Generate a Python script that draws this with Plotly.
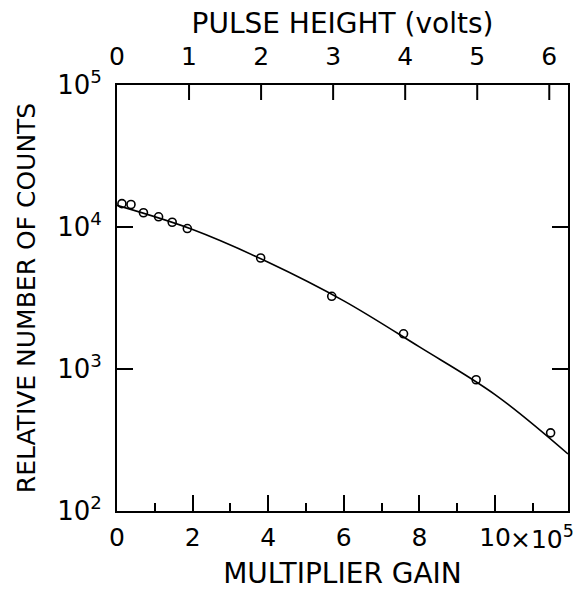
import math
import plotly.graph_objects as go

# Measured counts versus multiplier gain (gain in units of 10^5)
gain_pts = [0.13, 0.37, 0.70, 1.10, 1.46, 1.86, 3.80, 5.68, 7.58, 9.50, 11.47]
counts_pts = [14600, 14400, 12600, 11800, 10800, 9750, 6050, 3250, 1770, 840, 355]

# Smooth fitted curve through the measurements
curve_gain = [0, 2, 4, 6, 8, 10, 11.93]
curve_counts = [14200, 9600, 5650, 3020, 1430, 660, 252]

gain_ticks = [0, 2, 4, 6, 8, 10]
gain_ticktext = ["0", "2", "4", "6", "8", "10"]
gain_minor = [1, 3, 5, 7, 9, 11]
volt_ticks = [0, 1, 2, 3, 4, 5, 6]
count_ticks = [1e2, 1e3, 1e4, 1e5]
count_ticktext = ["10<sup>2</sup>", "10<sup>3</sup>", "10<sup>4</sup>", "10<sup>5</sup>"]

GAIN_MAX = 11.93
VOLT_MAX = 6.26
GAIN_PER_VOLT = GAIN_MAX / VOLT_MAX
LOG_MIN, LOG_MAX = 2, 5
PLOT_H = 595 - 85 - 84
TOP_TICK_LEN = 15

FONT = "DejaVu Sans"
fig = go.Figure()

fig.add_trace(go.Scatter(
    x=curve_gain, y=curve_counts, mode="lines",
    line=dict(color="black", width=1.6, shape="spline", smoothing=1.0),
    hoverinfo="skip", showlegend=False,
))
fig.add_trace(go.Scatter(
    x=gain_pts, y=counts_pts, mode="markers",
    marker=dict(symbol="circle-open", size=8, color="black",
                line=dict(color="black", width=1.6)),
    showlegend=False,
))

# Inward tick marks of the pulse-height scale along the top frame
tick_bottom = 10 ** (LOG_MAX - (LOG_MAX - LOG_MIN) * TOP_TICK_LEN / PLOT_H)
tick_x, tick_y = [], []
for v in volt_ticks[1:]:
    g = v * GAIN_PER_VOLT
    tick_x += [g, g, None]
    tick_y += [10 ** LOG_MAX, tick_bottom, None]
fig.add_trace(go.Scatter(
    x=tick_x, y=tick_y, mode="lines", line=dict(color="black", width=2),
    hoverinfo="skip", showlegend=False, cliponaxis=False,
))

# Empty trace so the pulse-height scale labels along the top get drawn
fig.add_trace(go.Scatter(
    x=volt_ticks, y=[None] * len(volt_ticks), xaxis="x2", yaxis="y",
    mode="markers", hoverinfo="skip", showlegend=False,
))

fig.update_layout(
    width=585, height=595,
    margin=dict(l=117, r=17, t=85, b=84),
    paper_bgcolor="white", plot_bgcolor="white",
    font=dict(family=FONT, size=25, color="black"),
    xaxis=dict(
        range=[0, GAIN_MAX], tickvals=gain_ticks, ticktext=gain_ticktext,
        showgrid=False, zeroline=False,
        showline=True, linecolor="black", linewidth=2, mirror=True,
        ticks="inside", ticklen=16, tickwidth=2, tickcolor="black",
        minor=dict(tickvals=gain_minor, ticks="inside",
                   ticklen=8, tickwidth=2, tickcolor="black", showgrid=False),
        tickfont=dict(size=25), ticklabelstandoff=3,
        title=dict(text="MULTIPLIER GAIN", font=dict(size=28), standoff=12),
    ),
    xaxis2=dict(
        overlaying="x", side="top", anchor="y",
        range=[0, VOLT_MAX], tickvals=volt_ticks,
        showgrid=False, zeroline=False, showline=False, ticks="",
        tickfont=dict(size=25), ticklabelstandoff=14,
        title=dict(text="PULSE HEIGHT (volts)", font=dict(size=28), standoff=0),
    ),
    yaxis=dict(
        type="log", range=[LOG_MIN, LOG_MAX], tickvals=count_ticks,
        ticktext=count_ticktext,
        showgrid=False, zeroline=False,
        showline=True, linecolor="black", linewidth=2, mirror="ticks",
        ticks="inside", ticklen=16, tickwidth=2, tickcolor="black",
        tickfont=dict(size=26), ticklabelstandoff=8,
        title=dict(text="RELATIVE NUMBER OF COUNTS", font=dict(size=25), standoff=14),
    ),
    annotations=[dict(
        text="×10<sup>5</sup>", xref="x", yref="paper",
        x=10.35, y=-0.018, xanchor="left", yanchor="top",
        showarrow=False, font=dict(size=25),
    )],
)

fig.write_html("out.html")
